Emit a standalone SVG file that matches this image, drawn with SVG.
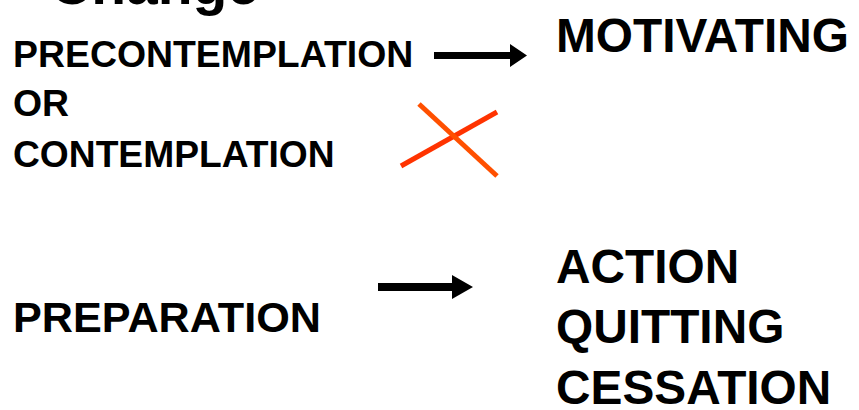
<svg xmlns="http://www.w3.org/2000/svg" width="859" height="410" viewBox="0 0 859 410">
<style>
text{font-family:"Liberation Sans",Arial,sans-serif;font-weight:bold;fill:#000}
.s{font-size:37.4px}
.m{font-size:47.8px}
.arrow{fill:#000}
</style>
<rect width="859" height="410" fill="#fff"/>
<g id="title"><text x="50" y="4" style="font-size:57px">Change</text></g>
<g id="precontemplation"><text class="s" x="13" y="67">PRECONTEMPLATION</text><text class="s" x="13" y="116">OR</text><text class="s" x="13" y="167" style="font-size:37.2px">CONTEMPLATION</text></g>
<g id="motivating"><text class="m" x="556" y="52">MOTIVATING</text></g>
<g id="preparation"><text x="13" y="332" style="font-size:43.2px">PREPARATION</text></g>
<g id="action"><text class="m" x="556" y="283">ACTION</text><text class="m" x="556" y="343">QUITTING</text><text class="m" x="556" y="404">CESSATION</text></g>
<g id="connectors">
<path class="arrow" d="M434 52 H510 V44 L527 55.5 L510 67 V59 H434 Z"/>
<path class="arrow" d="M378 283 H452 V275 L473 287 L452 299 V291 H378 Z"/>
<line x1="401" y1="166" x2="497" y2="112" stroke="#FF3300" stroke-width="5"/>
<line x1="419" y1="104" x2="497" y2="176" stroke="#FF5000" stroke-width="5"/>
</g>
</svg>
